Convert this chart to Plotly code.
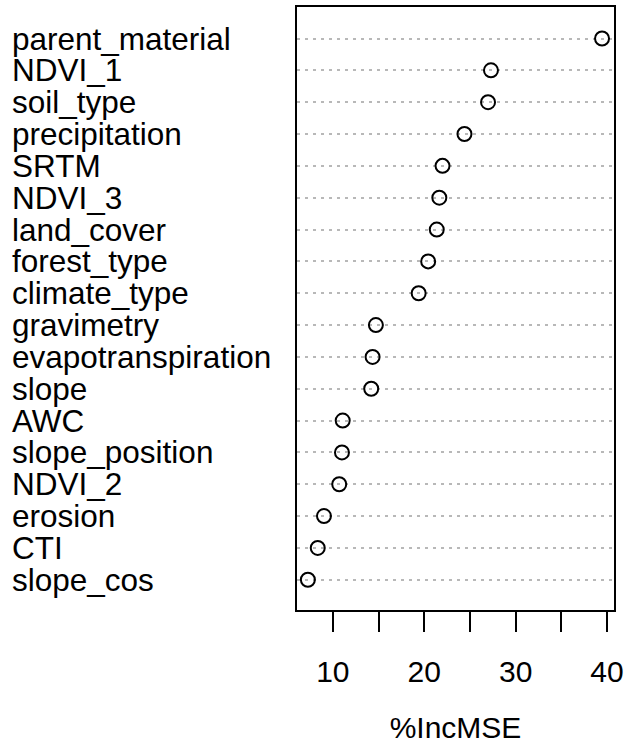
import plotly.graph_objects as go

# variable importance (%IncMSE), top to bottom as in the plot
variables = ["parent_material", "NDVI_1", "soil_type", "precipitation", "SRTM",
             "NDVI_3", "land_cover", "forest_type", "climate_type", "gravimetry",
             "evapotranspiration", "slope", "AWC", "slope_position", "NDVI_2",
             "erosion", "CTI", "slope_cos"]
inc_mse = [39.45, 27.3, 26.98, 24.4, 22.0,
           21.65, 21.37, 20.43, 19.39, 14.71,
           14.35, 14.2, 11.08, 11.0, 10.7,
           9.03, 8.35, 7.27]

tick_vals = [10, 15, 20, 25, 30, 35, 40]
tick_text = ["10", "", "20", "", "30", "", "40"]

font_family = "Liberation Sans, Arial, sans-serif"

fig = go.Figure()

fig.add_trace(go.Scatter(
    x=inc_mse,
    y=variables,
    mode="markers",
    marker=dict(symbol="circle-open", size=14, color="black",
                line=dict(color="black", width=2)),
    showlegend=False,
    hoverinfo="x+y",
))

# left-aligned variable labels, like R's dotchart
for name in variables:
    fig.add_annotation(
        x=-0.906, xref="paper", xanchor="left",
        y=name, yref="y", yanchor="middle",
        text=name, showarrow=False,
        font=dict(family=font_family, size=31.5, color="black"),
    )

fig.update_layout(
    width=629, height=744,
    margin=dict(l=297, r=11, t=5, b=132),
    paper_bgcolor="white",
    plot_bgcolor="white",
    font=dict(family=font_family, size=30, color="black"),
    xaxis=dict(
        range=[6.08, 40.76],
        tickvals=tick_vals, ticktext=tick_text,
        ticks="outside", ticklen=20, tickwidth=2, tickcolor="black",
        ticklabelstandoff=14,
        showgrid=False, zeroline=False,
        showline=True, linecolor="black", linewidth=2, mirror=True,
        tickfont=dict(size=30),
        title=dict(text="%IncMSE", font=dict(size=30), standoff=30),
    ),
    yaxis=dict(
        categoryorder="array", categoryarray=variables[::-1],
        range=[-0.95, 17.99],
        showticklabels=False, ticks="",
        showgrid=True, gridcolor="#b8b8b8", gridwidth=1.5, griddash="3px,5px",
        zeroline=False,
        showline=True, linecolor="black", linewidth=2, mirror=True,
    ),
)

# drop the browser's default page margin so the figure sits at the window corner
fig.write_html("out.html",
               config={"displayModeBar": False},
               post_script="document.body.style.margin='0';"
                           "document.body.style.overflow='hidden';")
